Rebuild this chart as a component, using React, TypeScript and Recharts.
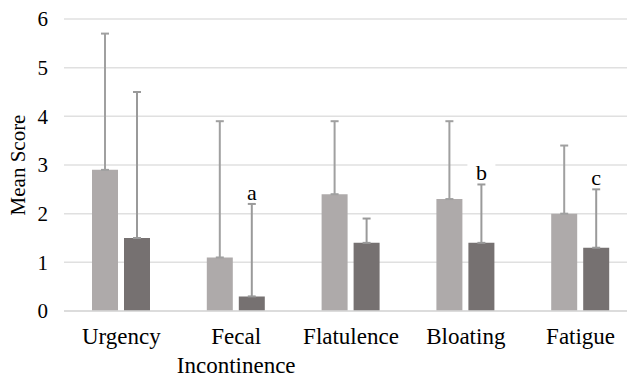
import React from 'react';
import { BarChart, Bar, XAxis, YAxis, CartesianGrid, ErrorBar, LabelList } from 'recharts';

const categories = ['Urgency', 'Fecal Incontinence', 'Flatulence', 'Bloating', 'Fatigue'];
const lightMeans = [2.9, 1.1, 2.4, 2.3, 2.0];
const lightErrors = [2.8, 2.8, 1.5, 1.6, 1.4];
const darkMeans = [1.5, 0.3, 1.4, 1.4, 1.3];
const darkErrors = [3.0, 1.9, 0.5, 1.2, 1.2];
const notes = ['', 'a', '', 'b', 'c'];
const yTicks = [0, 1, 2, 3, 4, 5, 6];

const FONT = 'Liberation Serif, Times New Roman, serif';

const data = categories.map((c, i) => ({
  category: c,
  light: lightMeans[i],
  lightErr: [0, lightErrors[i]],
  dark: darkMeans[i],
  darkErr: [0, darkErrors[i]],
  note: notes[i],
}));

const XTick = (props: any) => {
  const { x, y, payload } = props;
  const words = String(payload.value).split(' ');
  return (
    <text x={x} y={y} textAnchor="middle" fontFamily={FONT} fontSize={23} fill="#000">
      {words.map((w, i) => (
        <tspan key={i} x={x} dy={i === 0 ? '0.71em' : 29}>
          {w}
        </tspan>
      ))}
    </text>
  );
};

const YTick = (props: any) => {
  const { x, y, payload } = props;
  return (
    <text x={x} y={y} dy="0.355em" textAnchor="end" fontFamily={FONT} fontSize={21} fill="#000">
      {payload.value}
    </text>
  );
};

const NoteLabel = (props: any) => {
  const vb = props.viewBox || props;
  const x = props.x ?? vb.x;
  const y = props.y ?? vb.y;
  const width = props.width ?? vb.width;
  const height = props.height ?? vb.height;
  const { index, value } = props;
  if (!value) return null;
  const ppu = height / darkMeans[index];
  const errTop = y - darkErrors[index] * ppu;
  const cx = x + width / 2;
  const base = errTop - 4;
  return (
    <g>
      <rect x={cx - 14} y={base - 17} width={28} height={19} fill="#fff" />
      <text x={cx} y={base} textAnchor="middle" fontFamily={FONT} fontSize={22} fill="#000">
        {value}
      </text>
    </g>
  );
};

const YLabel = (props: any) => {
  const vb = props.viewBox || { x: 0, y: 19, width: 64, height: 292 };
  const cy = vb.y + vb.height / 2;
  const cx = 25;
  return (
    <text
      x={cx}
      y={cy}
      transform={`rotate(-90, ${cx}, ${cy})`}
      textAnchor="middle"
      fontFamily={FONT}
      fontSize={21}
      fill="#000"
    >
      Mean Score
    </text>
  );
};

export default function App() {
  return (
    <div style={{ position: 'absolute', left: 0, top: 0, width: 627, height: 373, overflow: 'hidden', background: '#fff' }}>
      <BarChart
        width={640}
        height={373}
        data={data}
        margin={{ top: 19, right: 2, bottom: 0, left: 0 }}
        barGap={6}
        barSize={26}
      >
        <CartesianGrid horizontal vertical={false} stroke="#e0e0e0" strokeWidth={1.5} />
        <XAxis
          dataKey="category"
          axisLine={{ stroke: '#d9d9d9', strokeWidth: 1.5 }}
          tickLine={false}
          tickMargin={11}
          height={62}
          interval={0}
          tick={<XTick />}
        />
        <YAxis
          domain={[0, 6]}
          ticks={yTicks}
          interval={0}
          width={64}
          axisLine={false}
          tickLine={false}
          tickMargin={10}
          tick={<YTick />}
          label={{ content: <YLabel /> }}
        />
        <Bar dataKey="light" fill="#AEAAAA" isAnimationActive={false}>
          <ErrorBar dataKey="lightErr" width={4} stroke="#a0a0a0" strokeWidth={2} isAnimationActive={false} />
        </Bar>
        <Bar dataKey="dark" fill="#767171" isAnimationActive={false}>
          <ErrorBar dataKey="darkErr" width={4} stroke="#9a9a9a" strokeWidth={2} isAnimationActive={false} />
          <LabelList dataKey="note" content={<NoteLabel />} />
        </Bar>
      </BarChart>
    </div>
  );
}
